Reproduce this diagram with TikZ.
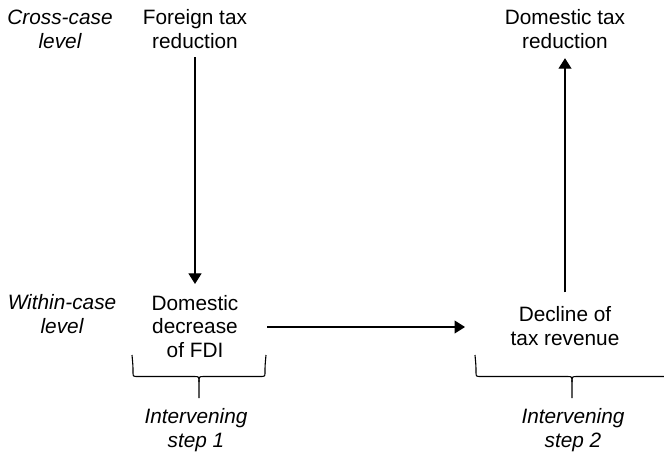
\documentclass[tikz,border=0pt]{standalone}
\usepackage{fontspec}
\setmainfont{Liberation Sans}
\usetikzlibrary{arrows.meta}
\begin{document}
\begin{tikzpicture}[x=1pt, y=-1pt,
  every node/.style={inner sep=0pt, outer sep=0pt, align=center,
    font=\fontsize{20.8pt}{23.5pt}\selectfont},
  level/.style={font=\fontsize{20.8pt}{23.5pt}\selectfont\itshape},
  concept/.style={},
  link/.style={line width=1.1pt, -{Triangle[width=13pt,length=10.5pt]}},
  brace/.style={line width=1.1pt}]
\useasboundingbox (0,0) rectangle (664,451);

% level labels (anchored at the baseline of their last line)
\node[level, anchor=base] (cross) at (60,48) {Cross-case\\level};
\node[level, anchor=base] (within) at (62,333) {Within-case\\level};

% causal chain
\node[concept, anchor=base] (foreign) at (195,48) {Foreign tax\\reduction};
\node[concept, anchor=base] (domtax) at (565,48) {Domestic tax\\reduction};
\node[concept, anchor=base] (fdi) at (195,357) {Domestic\\decrease\\of FDI};
\node[concept, anchor=base] (decline) at (565,345) {Decline of\\tax revenue};

\draw[link] ([yshift=-9pt]foreign.south) -- ([yshift=11pt]fdi.north);
\draw[link] ([yshift=14pt]decline.north) -- ([yshift=-10pt]domtax.south);
\coordinate (hstart) at (267,327);
\coordinate (hend) at (465,327);
\draw[link] (hstart) -- (hend);

% braces grouping each intervening step
\draw[brace] (132,355) .. controls (133,366) .. (133,372) .. controls (133,376.5) .. (138,376.5) -- (194,376.5)
  .. controls (199,376.5) .. (199,382) -- (199,398);
\draw[brace] (266,355) .. controls (265,366) .. (265,372) .. controls (265,376.5) .. (260,376.5) -- (204,376.5)
  .. controls (199,376.5) .. (199,382);
\draw[brace] (475,355) .. controls (476,366) .. (476,372) .. controls (476,376.5) .. (481,376.5) -- (567,376.5)
  .. controls (572,376.5) .. (572,382) -- (572,398);
\draw[brace] (669,355) .. controls (668,366) .. (668,372) .. controls (668,376.5) .. (663,376.5) -- (577,376.5)
  .. controls (572,376.5) .. (572,382);

\node[level, anchor=base] (step1) at (196,447) {Intervening\\step 1};
\node[level, anchor=base] (step2) at (573,447) {Intervening\\step 2};
\end{tikzpicture}
\end{document}
